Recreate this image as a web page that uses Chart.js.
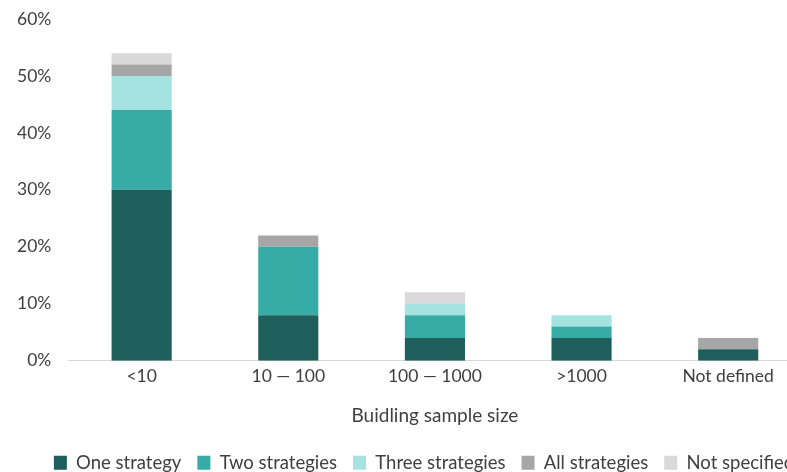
<!DOCTYPE html>
<html>
<head>
<meta charset="utf-8">
<script src="https://cdn.jsdelivr.net/npm/chart.js@4/dist/chart.umd.min.js"></script>
<style>
  html, body { margin: 0; padding: 0; background: #fff; overflow: hidden; }
  #wrap { width: 848px; height: 482px; }
</style>
</head>
<body>
<div id="wrap"><canvas id="canvas"></canvas></div>
<script>
const categories = ['<10', '10 \u2014 100', '100 \u2014 1000', '>1000', 'Not defined'];

// share of studies (%) per sample size group
const oneStrategy = [30, 8, 4, 4, 2];
const twoStrategies = [14, 12, 4, 2, 0];
const threeStrategies = [6, 0, 2, 2, 0];
const allStrategies = [2, 2, 0, 0, 2];
const notSpecified = [2, 0, 2, 0, 0];

const yTicks = [0, 10, 20, 30, 40, 50, 60];

const colors = {
    one: '#1f5f5b',
    two: '#37aba6',
    three: '#a5e3e1',
    all: '#a6a6a6',
    none: '#d9d9d9',
};

const font = 'Lato, "Noto Sans", sans-serif';
Chart.defaults.font.family = font;
Chart.defaults.color = '#404040';

function dataset(label, data, color) {
    return {
        label: label,
        data: data,
        backgroundColor: color,
        borderWidth: 0,
        categoryPercentage: 1,
        barPercentage: 0.41,
        yAxisID: 'y',
    };
}

const ctx = document.getElementById('canvas');
new Chart(ctx, {
    type: 'bar',
    data: {
        labels: categories,
        datasets: [
            dataset('One strategy', oneStrategy, colors.one),
            dataset('Two strategies', twoStrategies, colors.two),
            dataset('Three strategies', threeStrategies, colors.three),
            dataset('All strategies', allStrategies, colors.all),
            dataset('Not specified', notSpecified, colors.none),
        ],
    },
    options: {
        responsive: true,
        maintainAspectRatio: false,
        animation: false,
        layout: {
            padding: { left: 0, right: 0, top: 19, bottom: 0 },
        },
        plugins: {
            tooltip: { enabled: false },
            legend: {
                position: 'bottom',
                labels: {
                    boxWidth: 13,
                    boxHeight: 14,
                    padding: 16,
                    color: '#404040',
                    font: { size: 18.5 },
                },
            },
        },
        scales: {
            x: {
                stacked: true,
                grid: { display: false, drawTicks: false },
                border: { display: true, color: '#d9d9d9', width: 1 },
                ticks: { padding: 5, font: { size: 17.5 }, color: '#404040' },
                title: {
                    display: true,
                    text: 'Buidling sample size',
                    font: { size: 19 },
                    color: '#404040',
                    padding: { top: 13, bottom: 10 },
                },
            },
            y: {
                stacked: true,
                min: 0,
                max: 60,
                afterBuildTicks: (axis) => {
                    axis.ticks = yTicks.map((v) => ({ value: v }));
                },
                afterFit: (scale) => {
                    scale.paddingTop = 0;
                    scale.paddingBottom = 0;
                },
                grid: { display: false, drawTicks: false },
                border: { display: false },
                ticks: {
                    padding: 17,
                    font: { size: 17.5 },
                    color: '#404040',
                    callback: (v) => v + '%',
                },
            },
            // empty right-hand gutter so the plot ends before the legend does
            gutter: {
                type: 'linear',
                position: 'right',
                display: true,
                grid: { display: false, drawTicks: false },
                border: { display: false },
                ticks: { display: false },
                afterFit: (scale) => {
                    scale.width = 46.5;
                },
            },
        },
    },
});
</script>
</body>
</html>
